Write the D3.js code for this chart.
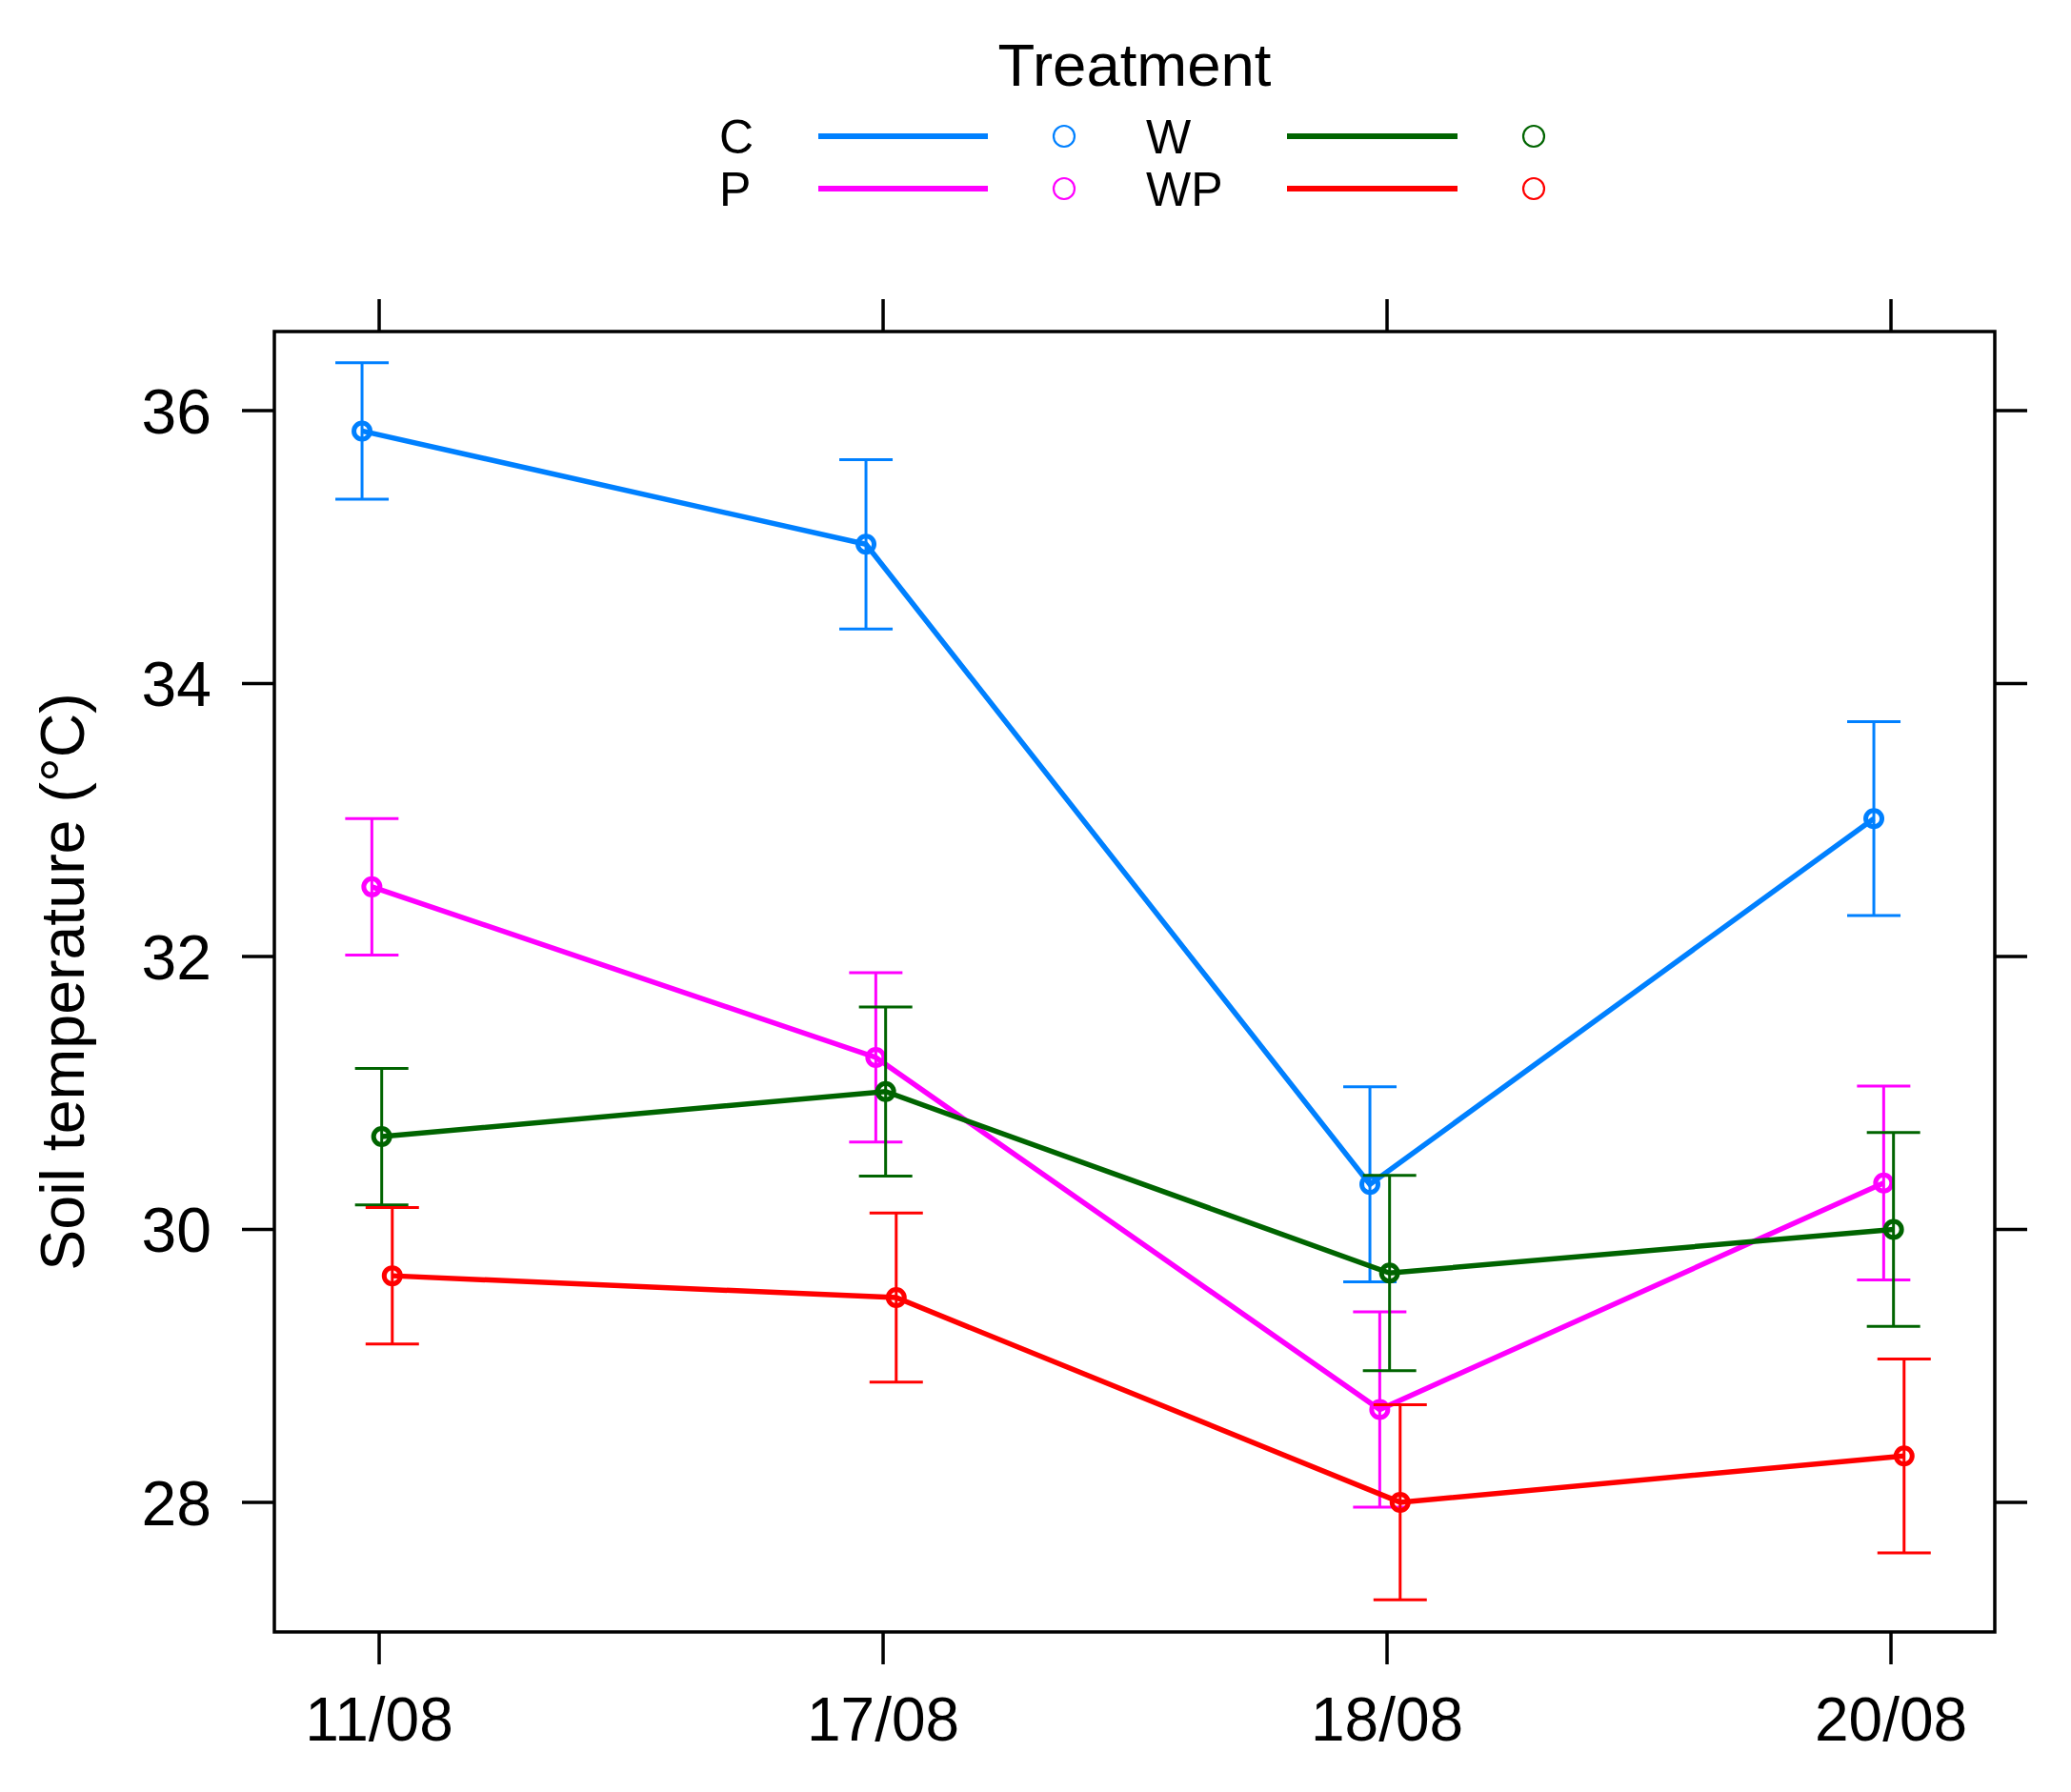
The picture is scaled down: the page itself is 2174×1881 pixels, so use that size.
<!DOCTYPE html>
<html>
  <head>
    <meta charset="utf-8" />
    <script src="https://cdn.jsdelivr.net/npm/d3@7"></script>
    <style>
      body { margin: 0; background: #fff; }
      text { font-family: "Liberation Sans", Arial, sans-serif; fill: #000; }
      .frame { fill: none; stroke: #000; stroke-width: 3.5; }
      .tick { stroke: #000; stroke-width: 3.5; }
    </style>
  </head>
  <body>
    <div id="chart"></div>
    <script type="text/javascript">
      var w = 2174, h = 1881;

      // data
      var dates = ["11/08", "17/08", "18/08", "20/08"];
      var treatments = ["C", "P", "W", "WP"];
      var colors = ["#0080ff", "#ff00ff", "#006400", "#ff0000"];
      var dodge = [-0.034, -0.0145, 0.005, 0.026];
      var meanC  = [35.85, 35.02, 30.33, 33.01];
      var meanP  = [32.51, 31.26, 28.68, 30.34];
      var meanW  = [30.68, 31.01, 29.68, 30.00];
      var meanWP = [29.66, 29.50, 28.00, 28.34];
      var errs   = [0.50, 0.62, 0.715, 0.71];
      var yTicks = [28, 30, 32, 34, 36];

      var means = [meanC, meanP, meanW, meanWP];
      var series = treatments.map(function(t, i) {
        return {
          name: t, color: colors[i], dodge: dodge[i],
          values: dates.map(function(d, j) {
            return { x: j + 1, y: means[i][j], e: errs[j] };
          })
        };
      });

      var m = { left: 288, right: 2094, top: 348, bottom: 1713 };
      var x = d3.scaleLinear().domain([0.792, 4.206]).range([m.left, m.right]);
      var y = d3.scaleLinear().domain([27.05, 36.579]).range([m.bottom, m.top]);
      var tickLen = 34;

      var svg = d3.select("#chart").append("svg")
        .attr("width", w).attr("height", h);

      svg.append("rect").attr("class", "frame")
        .attr("x", m.left).attr("y", m.top)
        .attr("width", m.right - m.left).attr("height", m.bottom - m.top);

      // x ticks top & bottom
      dates.forEach(function(d, j) {
        var px = x(j + 1);
        svg.append("line").attr("class", "tick")
          .attr("x1", px).attr("x2", px).attr("y1", m.bottom).attr("y2", m.bottom + tickLen);
        svg.append("line").attr("class", "tick")
          .attr("x1", px).attr("x2", px).attr("y1", m.top).attr("y2", m.top - tickLen);
        svg.append("text").attr("x", px).attr("y", 1827)
          .attr("text-anchor", "middle").attr("font-size", 64).text(d);
      });

      // y ticks left & right
      yTicks.forEach(function(v) {
        var py = y(v);
        svg.append("line").attr("class", "tick")
          .attr("x1", m.left).attr("x2", m.left - tickLen).attr("y1", py).attr("y2", py);
        svg.append("line").attr("class", "tick")
          .attr("x1", m.right).attr("x2", m.right + tickLen).attr("y1", py).attr("y2", py);
        svg.append("text").attr("x", 222).attr("y", py).attr("dy", "0.36em")
          .attr("text-anchor", "end").attr("font-size", 66).text(v);
      });

      svg.append("text")
        .attr("transform", "translate(88," + (m.top + m.bottom) / 2 + ") rotate(-90)")
        .attr("text-anchor", "middle").attr("font-size", 64.5)
        .text("Soil temperature (°C)");

      var line = d3.line()
        .x(function(d) { return x(d.x + d.dodge); })
        .y(function(d) { return y(d.y); });

      series.forEach(function(s) {
        var pts = s.values.map(function(v) {
          return { x: v.x, y: v.y, e: v.e, dodge: s.dodge };
        });
        var g = svg.append("g");
        g.append("path").datum(pts).attr("d", line)
          .attr("fill", "none").attr("stroke", s.color).attr("stroke-width", 5.5);

        var eb = g.selectAll("g.err").data(pts).enter().append("g");
        eb.append("line")
          .attr("x1", function(d) { return x(d.x + d.dodge); })
          .attr("x2", function(d) { return x(d.x + d.dodge); })
          .attr("y1", function(d) { return y(d.y - d.e); })
          .attr("y2", function(d) { return y(d.y + d.e); })
          .attr("stroke", s.color).attr("stroke-width", 3);
        [-1, 1].forEach(function(sign) {
          eb.append("line")
            .attr("x1", function(d) { return x(d.x + d.dodge) - 28; })
            .attr("x2", function(d) { return x(d.x + d.dodge) + 28; })
            .attr("y1", function(d) { return y(d.y + sign * d.e); })
            .attr("y2", function(d) { return y(d.y + sign * d.e); })
            .attr("stroke", s.color).attr("stroke-width", 3);
        });
        g.selectAll("circle").data(pts).enter().append("circle")
          .attr("cx", function(d) { return x(d.x + d.dodge); })
          .attr("cy", function(d) { return y(d.y); })
          .attr("r", 8.5).attr("fill", "none")
          .attr("stroke", s.color).attr("stroke-width", 5);
      });

      // legend
      var lg = svg.append("g");
      lg.append("text").attr("x", (m.left + m.right) / 2).attr("y", 90)
        .attr("text-anchor", "middle").attr("font-size", 63.5).text("Treatment");
      var colX = [755, 1203], lineX = [[859, 1037], [1351, 1530]], dotX = [1117, 1610];
      var rowY = [143, 198];
      series.forEach(function(s, i) {
        var col = i < 2 ? 0 : 1, row = i % 2;
        lg.append("text").attr("x", colX[col]).attr("y", rowY[row]).attr("dy", "0.36em")
          .attr("font-size", 50).text(s.name);
        lg.append("line").attr("x1", lineX[col][0]).attr("x2", lineX[col][1])
          .attr("y1", rowY[row]).attr("y2", rowY[row])
          .attr("stroke", s.color).attr("stroke-width", 6);
        lg.append("circle").attr("cx", dotX[col]).attr("cy", rowY[row]).attr("r", 11)
          .attr("fill", "none").attr("stroke", s.color).attr("stroke-width", 2.2);
      });
    </script>
  </body>
</html>
